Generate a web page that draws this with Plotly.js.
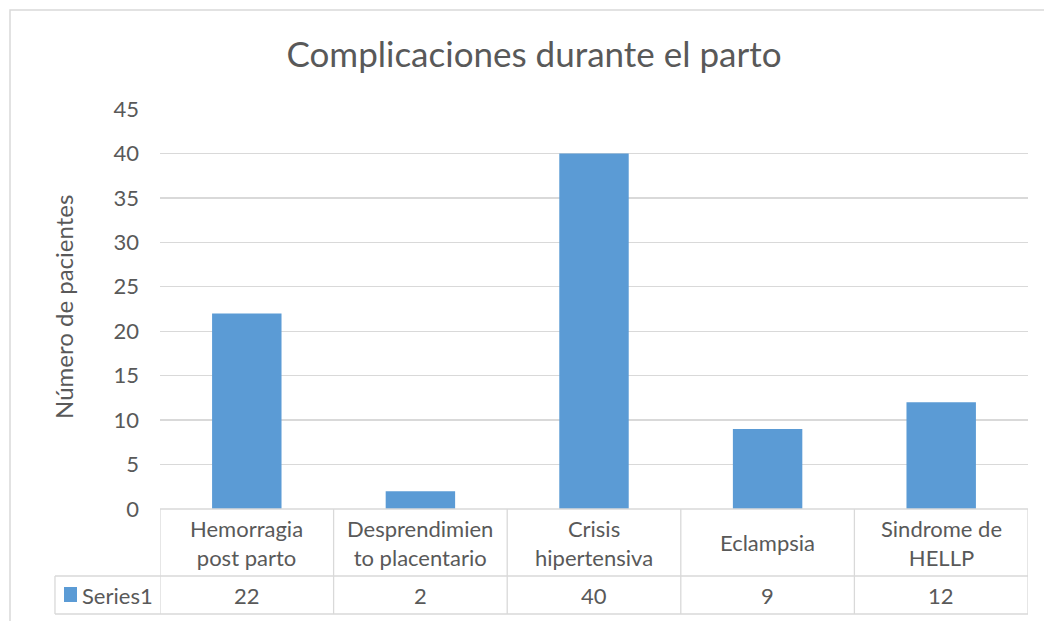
<!DOCTYPE html>
<html>
<head>
<meta charset="utf-8">
<script src="https://cdn.plot.ly/plotly-3.0.1.min.js"></script>
<style>html,body{margin:0;padding:0;background:#fff;}#chart{width:1044px;height:621px;}</style>
</head>
<body>
<div id="chart"></div>
<script>
var chartTitle = "Complicaciones durante el parto";
var yAxisTitle = "Número de pacientes";
var seriesName = "Series1";
var categories = ["Hemorragia<br>post parto", "Desprendimien<br>to placentario", "Crisis<br>hipertensiva", "Eclampsia", "Sindrome de<br>HELLP"];
var values = [22, 2, 40, 9, 12];
var yTicks = [0, 5, 10, 15, 20, 25, 30, 35, 40, 45];

var FONT = "Lato, 'Open Sans', sans-serif";
var TXT = "#595959";
var GRID = "#d9d9d9";
var BLUE = "#5b9bd5";

var idx = categories.map(function(_, i){ return i; });

// layout geometry (paper units)
var rowTop = 0, row1Bot = -0.1675, row2Bot = -0.2625;
var seriesCellLeft = -0.121;

var shapes = [];
var annotations = [];
var lineStyle = {color: GRID, width: 1.3};

// horizontal table lines
shapes.push({type:"line", xref:"x", yref:"paper", x0:-0.5, x1:categories.length-0.5, y0:rowTop, y1:rowTop, line:lineStyle});
[row1Bot, row2Bot].forEach(function(yv){
  shapes.push({type:"line", xref:"paper", yref:"paper", x0:seriesCellLeft, x1:1, y0:yv, y1:yv, line:lineStyle});
});
// vertical table lines
shapes.push({type:"line", xref:"paper", yref:"paper", x0:seriesCellLeft, x1:seriesCellLeft, y0:row1Bot, y1:row2Bot, line:lineStyle});
for (var k = 0; k <= categories.length; k++) {
  shapes.push({type:"line", xref:"x", yref:"paper", x0:k-0.5, x1:k-0.5, y0:rowTop, y1:row2Bot, line:lineStyle});
}
// legend key square
shapes.push({type:"rect", xref:"paper", yref:"paper", x0:-0.1106, x1:-0.0956, y0:-0.195, y1:-0.2325, line:{width:0}, fillcolor:BLUE});
// outer chart border
shapes.push({type:"rect", xref:"paper", yref:"paper", x0:-0.1728, x1:1.03, y0:1.2475, y1:-0.35, line:{color:GRID, width:1.5}, fillcolor:"rgba(0,0,0,0)"});

// table text
categories.forEach(function(c, i){
  annotations.push({xref:"x", yref:"paper", x:i, y:-0.084, text:c, showarrow:false, xanchor:"center", yanchor:"middle", font:{family:FONT, size:22, color:TXT}});
  annotations.push({xref:"x", yref:"paper", x:i, y:-0.215, text:String(values[i]), showarrow:false, xanchor:"center", yanchor:"middle", font:{family:FONT, size:22, color:TXT}});
});
annotations.push({xref:"paper", yref:"paper", x:-0.0922, y:-0.215, text:seriesName, showarrow:false, xanchor:"left", yanchor:"middle", font:{family:FONT, size:22, color:TXT}});
// y axis title
annotations.push({xref:"paper", yref:"paper", x:-0.1118, y:0.505, text:yAxisTitle, showarrow:false, textangle:-90, xanchor:"center", yanchor:"middle", font:{family:FONT, size:24, color:TXT}});

var trace = {
  type:"bar", x:idx, y:values, name:seriesName,
  marker:{color:BLUE, line:{width:0}}, width:0.4,
  hoverinfo:"none"
};

var layout = {
  width:1044, height:621,
  margin:{l:160, r:16, t:109, b:112, pad:0},
  paper_bgcolor:"#fff", plot_bgcolor:"#fff",
  showlegend:false,
  title:{text:chartTitle, x:0.5115, xanchor:"center", xref:"container", y:0.912, yanchor:"middle", yref:"container", font:{family:FONT, size:35, color:TXT}},
  xaxis:{range:[-0.5, categories.length-0.5], showticklabels:false, showgrid:false, zeroline:false, showline:false, ticks:"", fixedrange:true},
  yaxis:{range:[0,45], tickvals:yTicks, ticktext:yTicks.map(String), showgrid:true, gridcolor:GRID, gridwidth:1.3, zeroline:false, showline:false, ticks:"", ticklabelstandoff:20, tickfont:{family:FONT, size:22, color:TXT}, fixedrange:true},
  shapes:shapes,
  annotations:annotations,
  bargap:0.6
};

Plotly.newPlot("chart", [trace], layout, {displayModeBar:false, staticPlot:true});
</script>
</body>
</html>
